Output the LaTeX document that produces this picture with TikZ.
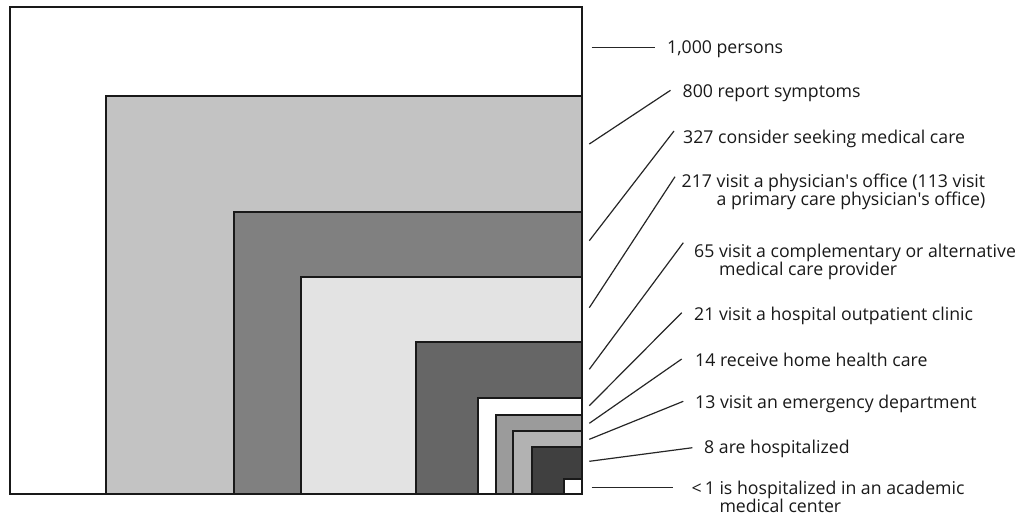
\documentclass[tikz,border=0pt]{standalone}
\usepackage{fontspec}
\setmainfont{Open Sans}
\begin{document}
\begin{tikzpicture}[x=1pt,y=-1pt,
  sq/.style={line width=2pt, draw=black!90},
  lead/.style={line width=1.2pt, draw=black!85},
  lab/.style={anchor=base west, inner sep=0pt, align=left, text=black!90,
    font=\fontsize{17.7}{18.3}\selectfont}]
\definecolor{c800}{RGB}{195,195,195}
\definecolor{c327}{RGB}{128,128,128}
\definecolor{c217}{RGB}{227,227,227}
\definecolor{c65}{RGB}{102,102,102}
\definecolor{c14}{RGB}{155,155,155}
\definecolor{c13}{RGB}{178,178,178}
\definecolor{c8}{RGB}{64,64,64}
\useasboundingbox (0,0) rectangle (1024,520);
% nested squares
\filldraw[sq, fill=white] (10,7) rectangle (582,494);
\filldraw[sq, fill=c800] (106,96) rectangle (582,494);
\filldraw[sq, fill=c327] (234,212) rectangle (582,494);
\filldraw[sq, fill=c217] (301,277) rectangle (582,494);
\filldraw[sq, fill=c65] (416,342) rectangle (582,494);
\filldraw[sq, fill=white] (478,398) rectangle (582,494);
\filldraw[sq, fill=c14] (496,415) rectangle (582,494);
\filldraw[sq, fill=c13] (513,431) rectangle (582,494);
\filldraw[sq, fill=c8] (532,447) rectangle (582,494);
\filldraw[sq, fill=white] (564,479) rectangle (582,494);
% labels
\node[lab] (l1000) at (667,53) {1,000 persons};
\node[lab] (l800) at (682.5,97) {800 report symptoms};
\node[lab] (l327) at (683,143) {327 consider seeking medical care};
\node[lab] (l217) at (681.5,205.3) {217 visit a physician\textquotesingle s office (113 visit\\\phantom{217 }a primary care physician\textquotesingle s office)};
\node[lab] (l65) at (694,275.8) {65 visit a complementary or alternative\\\phantom{65 }medical care provider};
\node[lab] (l21) at (694,320) {21 visit a hospital outpatient clinic};
\node[lab] (l14) at (695,366) {14 receive home health care};
\node[lab] (l13) at (695,408) {13 visit an emergency department};
\node[lab] (l8) at (704,453) {8 are hospitalized};
\node[lab] (l1) at (691.5,512.3) {<\,1 is hospitalized in an academic\\\phantom{<\,1 }medical center};
% leader end points on the squares
\coordinate (p1000) at (591.7,47.7);
\coordinate (p800) at (589.3,144);
\coordinate (p327) at (589.3,240.7);
\coordinate (p217) at (589.3,307.7);
\coordinate (p65) at (589.3,369.3);
\coordinate (p21) at (589.3,405.7);
\coordinate (p14) at (589.3,423.3);
\coordinate (p13) at (589.3,439.3);
\coordinate (p8) at (589.3,461.3);
\coordinate (p1) at (591.7,487.7);
% leaders
\draw[lead] (p1000) -- ([shift={(-12,-5.3)}]l1000.base west);
\draw[lead] (p800) -- ([shift={(-12,-6.7)}]l800.base west);
\draw[lead] (p327) -- ([shift={(-9,-12)}]l327.base west);
\draw[lead] (p217) -- ([shift={(-6.5,-28.6)}]l217.base west);
\draw[lead] (p65) -- ([shift={(-10.7,-33.1)}]l65.base west);
\draw[lead] (p21) -- ([shift={(-12.3,-7.3)}]l21.base west);
\draw[lead] (p14) -- ([shift={(-13.3,-7)}]l14.base west);
\draw[lead] (p13) -- ([shift={(-11.7,-6.7)}]l13.base west);
\draw[lead] (p8) -- ([shift={(-11.6,-5.3)}]l8.base west);
\draw[lead] (p1) -- ([shift={(-18.8,-24.6)}]l1.base west);
\end{tikzpicture}
\end{document}
